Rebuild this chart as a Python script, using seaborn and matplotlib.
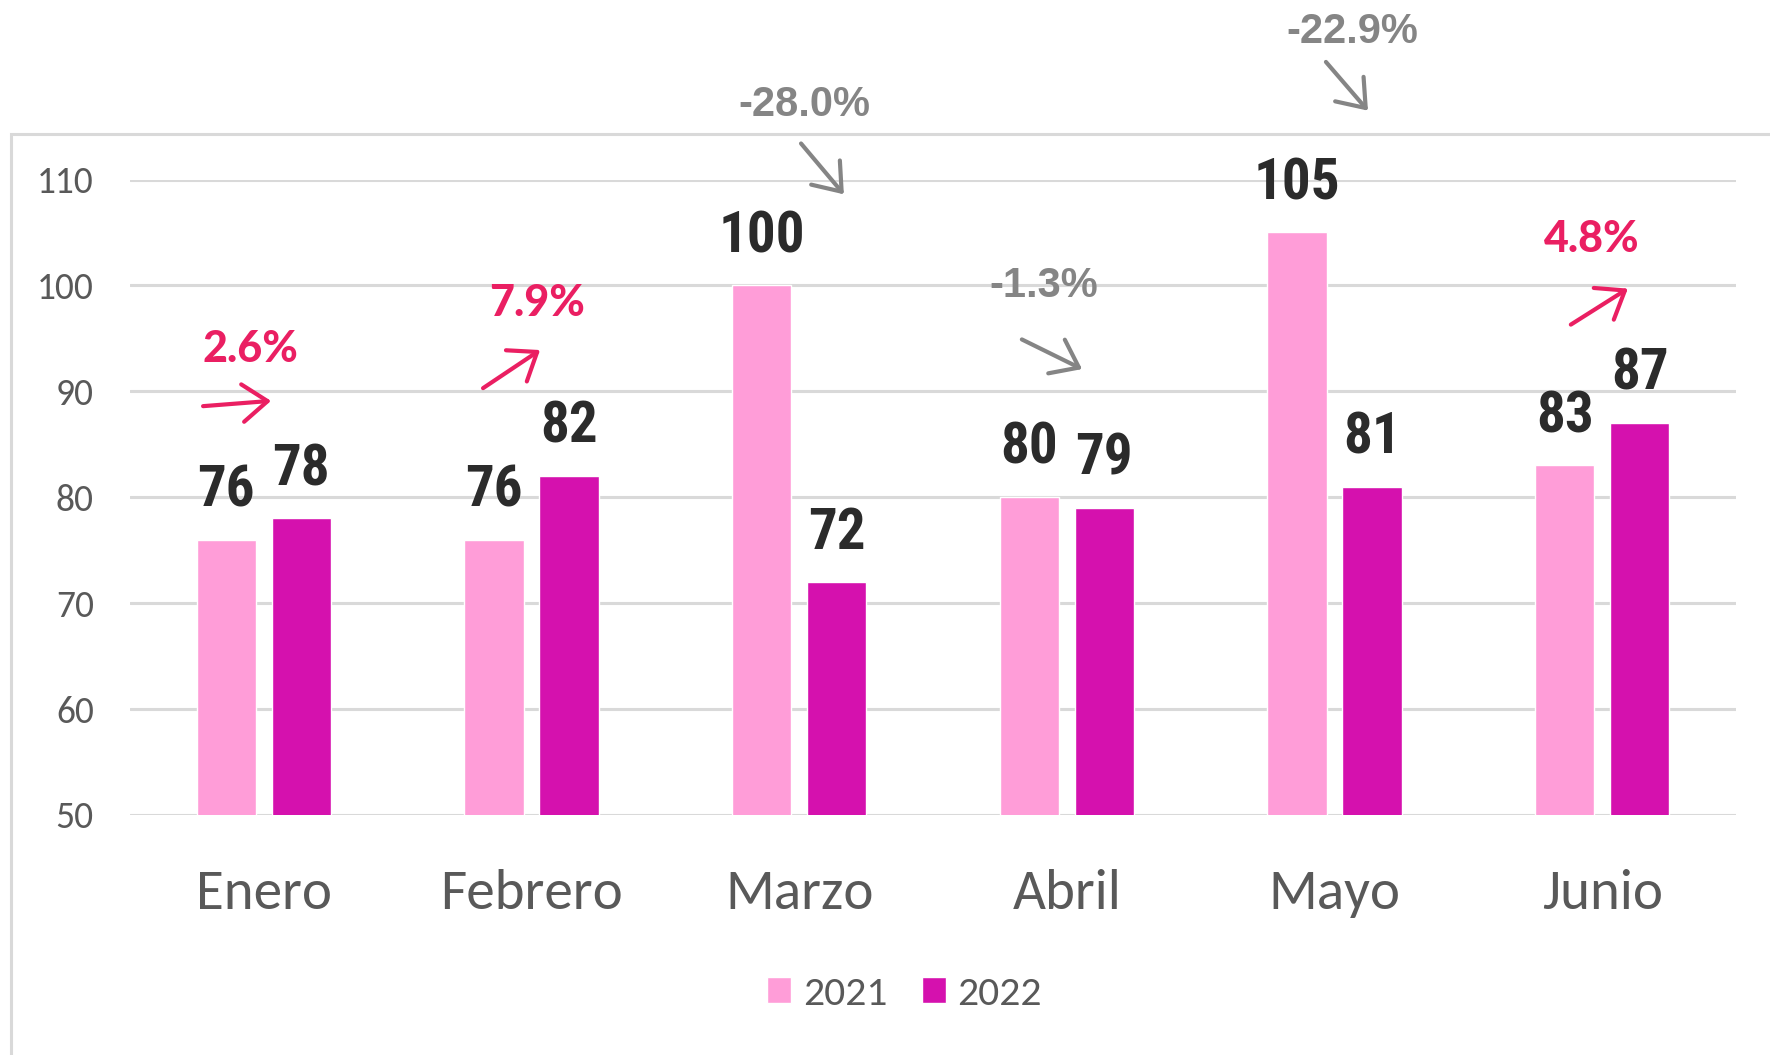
import math

import matplotlib
matplotlib.use('Agg')
import matplotlib.pyplot as plt
from matplotlib.patches import Rectangle
import pandas as pd
import seaborn as sns

# Data
meses = ["Enero", "Febrero", "Marzo", "Abril", "Mayo", "Junio"]
valores_2021 = [76, 76, 100, 80, 105, 83]
valores_2022 = [78, 82, 72, 79, 81, 87]
anios = ["2021", "2022"]
y_ticks = [50, 60, 70, 80, 90, 100, 110]

# Layout of the % change notes (data coords): text baseline, arrow start, arrow end
nota_texto = [(-0.05, 92.8), (1.02, 97.1), (2.02, 116.0), (2.915, 98.9), (4.065, 122.9), (4.96, 103.2)]
nota_flecha = [((-0.227, 88.6), (0.027, 89.1)),
               ((0.819, 90.3), (1.032, 93.9)),
               ((2.007, 113.4), (2.167, 108.6)),
               ((2.832, 94.9), (3.057, 92.1)),
               ((3.968, 121.1), (4.125, 116.5)),
               ((4.883, 96.3), (5.096, 99.7))]

colores = ["#FF9DD8", "#D511AE"]
rosa = "#EA1F62"
gris_nota = "#858585"
gris_texto = "#595959"

fuente_eje = ["Carlito", "Lato", "DejaVu Sans"]
fuente_valor = ["Roboto Condensed", "Fira Sans Condensed", "DejaVu Sans"]

df = pd.DataFrame({
    "mes": meses * 2,
    "valor": valores_2021 + valores_2022,
    "anio": [anios[0]] * len(meses) + [anios[1]] * len(meses),
})


def redondeo(x):
    # half up, so -1.25 -> -1.3
    return math.copysign(math.floor(abs(x) * 10 + 0.5) / 10, x)


sns.set_style("white")
plt.rcParams['font.family'] = fuente_eje

fig = plt.figure(figsize=(17.7, 10.55), dpi=100)
ax = fig.add_axes([130 / 1770, 1 - 815 / 1055, (1736 - 130) / 1770, (815 - 179.5) / 1055])

sns.barplot(data=df, x="mes", y="valor", hue="anio", order=meses, hue_order=anios,
            palette=colores, width=0.56, gap=0.21, saturation=1, ax=ax, zorder=3)

ax.set_ylim(50, 110)
ax.set_xlim(-0.5, len(meses) - 0.5)
ax.set_yticks(y_ticks)
ax.grid(axis="y", color="#d9d9d9", linewidth=2.2, zorder=0)
ax.grid(axis="x", visible=False)
for s in ax.spines.values():
    s.set_visible(False)
ax.set_xlabel("")
ax.set_ylabel("")
ax.tick_params(axis="y", length=0, pad=26, labelsize=27, labelcolor=gris_texto)
ax.tick_params(axis="x", length=0, pad=39, labelsize=41, labelcolor=gris_texto)

# value labels over the bars
for cont, vals in zip(ax.containers, [valores_2021, valores_2022]):
    for bar, v in zip(cont, vals):
        ax.annotate(str(v), (bar.get_x() + bar.get_width() / 2, v),
                    xytext=(0, 24), textcoords="offset points",
                    ha="center", va="baseline", fontsize=41, fontweight="bold",
                    family=fuente_valor, color="#2b2b2b", annotation_clip=False)

# % change 2022 vs 2021
for i in range(len(meses)):
    cambio = redondeo((valores_2022[i] - valores_2021[i]) / valores_2021[i] * 100)
    sube = cambio >= 0
    color = rosa if sube else gris_nota
    fam = ["Lato", "DejaVu Sans"] if sube else ["Liberation Sans", "DejaVu Sans"]
    peso = 900 if sube else "bold"
    tam = 31 if sube else 30
    tx, ty = nota_texto[i]
    ax.text(tx, ty, f"{cambio:.1f}%", ha="center", va="baseline", fontsize=tam,
            fontweight=peso, color=color, family=fam, clip_on=False)
    ini, fin = nota_flecha[i]
    ax.annotate("", xy=fin, xytext=ini, annotation_clip=False,
                arrowprops=dict(arrowstyle="->,head_length=0.6,head_width=0.45",
                                color=color, lw=3, mutation_scale=30,
                                shrinkA=0, shrinkB=0))

leg = ax.legend(loc="center", bbox_to_anchor=(0.511, 0.058), bbox_transform=fig.transFigure,
                ncol=2, frameon=False, fontsize=30, handlelength=0.58, handleheight=0.58,
                handletextpad=0.27, columnspacing=0.83, labelcolor=gris_texto)

# light border around the chart area
fig.add_artist(Rectangle((11 / 1770, -0.2), 1.2, 1.2 - 134 / 1055, transform=fig.transFigure,
                         fill=False, edgecolor="#d9d9d9", linewidth=2.2))

fig.savefig("out.png", dpi=100, facecolor="white")
